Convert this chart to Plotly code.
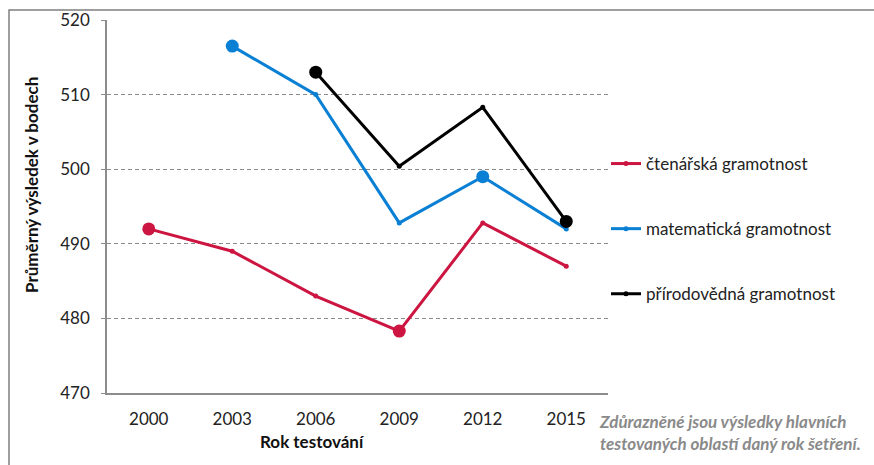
import plotly.graph_objects as go

years = ["2000", "2003", "2006", "2009", "2012", "2015"]
reading = [492, 489, 483, 478.3, 492.8, 487]
math = [None, 516.5, 510, 492.8, 499, 492]
science = [None, None, 513, 500.4, 508.3, 493]

# highlighted (main testing area) years per series
reading_hl = ["2000", "2009"]
math_hl = ["2003", "2012"]
science_hl = ["2006", "2015"]

names = ["čtenářská gramotnost", "matematická gramotnost", "přírodovědná gramotnost"]
colors = ["#CC1540", "#0A80D4", "#000000"]

FONT = "Lato"
FS = 17
fig = go.Figure()

for i, (vals, hl) in enumerate([(reading, reading_hl), (math, math_hl), (science, science_hl)]):
    fig.add_trace(go.Scatter(
        x=years, y=vals, mode="lines+markers", name=names[i],
        line=dict(color=colors[i], width=3),
        marker=dict(size=5, color=colors[i]),
        legendgroup=str(i), connectgaps=False,
    ))
    hx = [y for y in years if y in hl]
    hy = [vals[years.index(y)] for y in hx]
    fig.add_trace(go.Scatter(
        x=hx, y=hy, mode="markers", showlegend=False, legendgroup=str(i),
        marker=dict(size=13, color=colors[i]),
    ))

W, H = 874, 465
L, R, T, B = 107, 608, 20, 393
pw, ph = R - L, B - T

def px(x):
    return (x - L) / pw

def py(y):
    return (B - y) / ph

fig.update_layout(
    width=W, height=H,
    margin=dict(l=L, r=W - R, t=T, b=H - B, autoexpand=False),
    paper_bgcolor="white", plot_bgcolor="white",
    font=dict(family=FONT, size=FS, color="#222"),
    showlegend=True,
    legend=dict(
        x=px(606), y=py(146), xanchor="left", yanchor="top",
        traceorder="grouped", tracegroupgap=40,
        font=dict(family=FONT, size=FS, color="#222"),
        itemwidth=30, bgcolor="rgba(0,0,0,0)",
    ),
    xaxis=dict(
        type="category", range=[-0.5, len(years) - 0.5],
        showgrid=False, showline=True, linecolor="#8c8c8c",
        linewidth=1.5, ticks="", tickfont=dict(size=FS, color="#222"),
        ticklabelstandoff=10, zeroline=False, automargin=False,
    ),
    yaxis=dict(
        range=[470, 520], dtick=10, showline=True, linecolor="#8c8c8c",
        linewidth=1.5, ticks="outside", ticklen=4, tickcolor="#8c8c8c",
        showgrid=True, gridcolor="#8a8a8a", griddash="4px,3px", gridwidth=1,
        tickfont=dict(size=FS, color="#222"), ticklabelstandoff=8,
        zeroline=False, automargin=False,
    ),
    shapes=[dict(
        type="rect", xref="paper", yref="paper",
        x0=px(9), x1=px(900), y0=py(500), y1=py(10),
        line=dict(color="#7f7f7f", width=1.5), fillcolor="rgba(0,0,0,0)",
        layer="below",
    )],
    annotations=[
        dict(text="<b>Průměrný výsledek v bodech</b>", textangle=-90,
             xref="paper", yref="paper", x=px(32), y=py(185),
             xanchor="center", yanchor="middle",
             showarrow=False, font=dict(size=FS, color="#111")),
        dict(text="<b>Rok testování</b>",
             xref="paper", yref="paper", x=px(312), y=py(441),
             xanchor="center", yanchor="middle",
             showarrow=False, font=dict(size=FS, color="#111")),
        dict(text="<b><i>Zdůrazněné jsou výsledky hlavních<br>testovaných oblastí daný rok šetření.</i></b>",
             xref="paper", yref="paper", x=px(597), y=py(432),
             xanchor="left", yanchor="middle", align="left",
             showarrow=False, font=dict(size=FS, color="#8a8a8a")),
    ],
)

fig.write_html("out.html", config={"displayModeBar": False},
               post_script="document.body.style.margin='0';document.body.style.overflow='hidden';")
